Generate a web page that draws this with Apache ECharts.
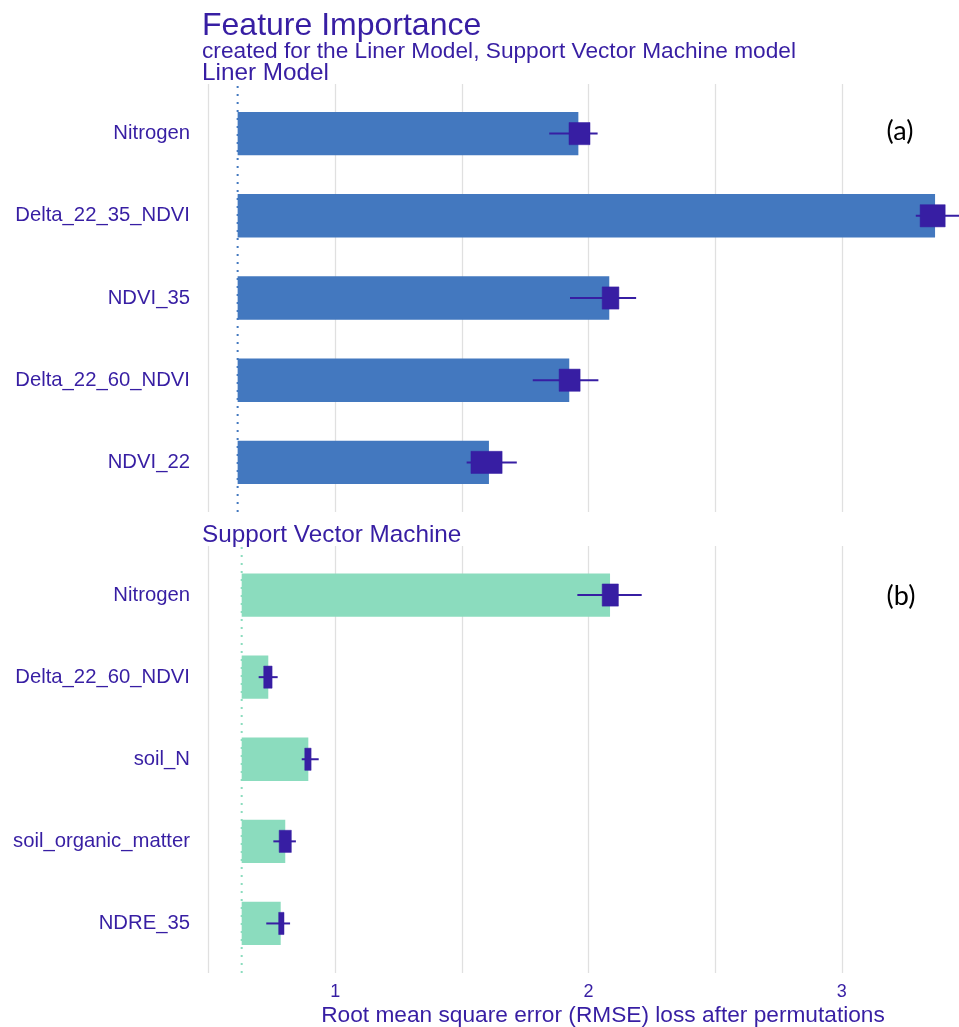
<!DOCTYPE html>
<html>
<head>
<meta charset="utf-8">
<script src="https://cdn.jsdelivr.net/npm/echarts@6/dist/echarts.min.js"></script>
<style>
  html, body { margin: 0; padding: 0; background: #ffffff; }
  #chart { width: 959px; height: 1027px; }
</style>
</head>
<body>
<div id="chart"></div>
<script>
// ---- Liner Model: permutation feature importance ----
const lmFeatures = ['Nitrogen', 'Delta_22_35_NDVI', 'NDVI_35', 'Delta_22_60_NDVI', 'NDVI_22'];
const lmBaseline = 0.615;                          // full-model RMSE
const lmLoss = [1.960, 3.368, 2.082, 1.924, 1.607]; // mean RMSE after permutation
// spread of permutation runs: [min, q1, q3, max]
const lmSpread = [
  [1.845, 1.923, 2.006, 2.036],
  [3.292, 3.309, 3.408, 3.500],
  [1.927, 2.054, 2.120, 2.188],
  [1.780, 1.884, 1.967, 2.039],
  [1.519, 1.536, 1.659, 1.717]
];

// ---- Support Vector Machine ----
const svmFeatures = ['Nitrogen', 'Delta_22_60_NDVI', 'soil_N', 'soil_organic_matter', 'NDRE_35'];
const svmBaseline = 0.631;
const svmLoss = [2.085, 0.736, 0.894, 0.803, 0.785];
const svmSpread = [
  [1.956, 2.054, 2.118, 2.210],
  [0.698, 0.718, 0.751, 0.773],
  [0.868, 0.880, 0.905, 0.935],
  [0.756, 0.779, 0.827, 0.845],
  [0.728, 0.777, 0.798, 0.822]
];

const xMin = 0.5, xMax = 3.5, xStep = 0.5;
const xTickLabels = [1, 2, 3];

const FONT = '"Liberation Sans", Arial, Helvetica, sans-serif';
const INK = '#371ea3';
const LM_COLOR = '#4378bf';
const SVM_COLOR = '#8bdcbe';
const GRID_LINE = '#e0e0e0';

// horizontal layout shared by all panels (plot runs past the right edge)
const LEFT = 208.5, WIDTH = 760;

function barItem(params, api) {
  const cat = api.value(0);
  const p0 = api.coord([api.value(1), cat]);
  const p1 = api.coord([api.value(2), cat]);
  const band = api.size([0, 1])[1];
  const h = band * 0.528;
  return {
    type: 'rect',
    shape: { x: p0[0], y: p0[1] - h / 2, width: p1[0] - p0[0], height: h },
    style: { fill: api.visual('color') }
  };
}

function spreadItem(params, api) {
  const cat = api.value(0);
  const pMin = api.coord([api.value(1), cat]);
  const pQ1 = api.coord([api.value(2), cat]);
  const pQ3 = api.coord([api.value(3), cat]);
  const pMax = api.coord([api.value(4), cat]);
  const band = api.size([0, 1])[1];
  const h = band * 0.27;
  return {
    type: 'group',
    children: [
      { type: 'line', shape: { x1: pMin[0], y1: pMin[1], x2: pMax[0], y2: pMax[1] },
        style: { stroke: INK, lineWidth: 2 } },
      { type: 'rect', shape: { x: pQ1[0], y: pQ1[1] - h / 2, width: pQ3[0] - pQ1[0], height: h },
        style: { fill: INK, stroke: INK, lineWidth: 0.5 } }
    ]
  };
}

function bgXAxis(gridIndex, withLabels) {
  return {
    type: 'value', gridIndex, min: xMin, max: xMax, interval: xStep,
    position: 'bottom',
    axisLine: { show: false }, axisTick: { show: false },
    splitLine: { show: true, lineStyle: { color: GRID_LINE, width: 1.3 } },
    axisLabel: {
      show: withLabels, color: INK, fontFamily: FONT, fontSize: 18, margin: 10,
      formatter: v => (xTickLabels.indexOf(v) >= 0 ? String(v) : '')
    }
  };
}
function dataXAxis(gridIndex) {
  return { type: 'value', gridIndex, min: xMin, max: xMax, show: false, splitLine: { show: false } };
}
function bgYAxis(gridIndex) {
  return { type: 'value', gridIndex, min: 0, max: 1, show: false, splitLine: { show: false } };
}
function catYAxis(gridIndex, cats) {
  return {
    type: 'category', gridIndex, data: cats, inverse: true,
    axisLine: { show: false }, axisTick: { show: false }, splitLine: { show: false },
    axisLabel: { color: INK, fontFamily: FONT, fontSize: 20.3, margin: 18.5 }
  };
}

function panelGrid(top, height) {
  return { left: LEFT, width: WIDTH, top, height, containLabel: false, outerBoundsMode: 'none' };
}

const option = {
  animation: false,
  backgroundColor: '#ffffff',
  grid: [
    panelGrid(84, 428),     // 0: panel a background
    panelGrid(92.5, 411),   // 1: panel a bars
    panelGrid(546, 427),    // 2: panel b background
    panelGrid(554, 410.5)   // 3: panel b bars
  ],
  xAxis: [bgXAxis(0, false), dataXAxis(1), bgXAxis(2, true), dataXAxis(3)],
  yAxis: [bgYAxis(0), catYAxis(1, lmFeatures), bgYAxis(2), catYAxis(3, svmFeatures)],
  series: [
    { type: 'line', xAxisIndex: 0, yAxisIndex: 0, symbol: 'none', silent: true,
      data: [[lmBaseline, 0], [lmBaseline, 1]],
      lineStyle: { color: LM_COLOR, width: 2, type: [2, 6] } },
    { type: 'custom', xAxisIndex: 1, yAxisIndex: 1, renderItem: barItem,
      itemStyle: { color: LM_COLOR }, encode: { y: 0, x: [1, 2] },
      data: lmLoss.map((v, i) => [i, lmBaseline, v]) },
    { type: 'custom', xAxisIndex: 1, yAxisIndex: 1, renderItem: spreadItem,
      encode: { y: 0, x: [1, 2, 3, 4] },
      data: lmSpread.map((s, i) => [i, ...s]) },

    { type: 'line', xAxisIndex: 2, yAxisIndex: 2, symbol: 'none', silent: true,
      data: [[svmBaseline, 0], [svmBaseline, 1]],
      lineStyle: { color: SVM_COLOR, width: 2, type: [2, 6] } },
    { type: 'custom', xAxisIndex: 3, yAxisIndex: 3, renderItem: barItem,
      itemStyle: { color: SVM_COLOR }, encode: { y: 0, x: [1, 2] },
      data: svmLoss.map((v, i) => [i, svmBaseline, v]) },
    { type: 'custom', xAxisIndex: 3, yAxisIndex: 3, renderItem: spreadItem,
      encode: { y: 0, x: [1, 2, 3, 4] },
      data: svmSpread.map((s, i) => [i, ...s]) }
  ],
  graphic: [
    { type: 'text', x: 202, y: 26.6, style: { text: 'Feature Importance', fill: INK, font: '32px ' + FONT, verticalAlign: 'middle' } },
    { type: 'text', x: 202, y: 51.4, style: { text: 'created for the Liner Model, Support Vector Machine model', fill: INK, font: '22.7px ' + FONT, verticalAlign: 'middle' } },
    { type: 'text', x: 202, y: 73.3, style: { text: 'Liner Model', fill: INK, font: '24.3px ' + FONT, verticalAlign: 'middle' } },
    { type: 'text', x: 202, y: 534.9, style: { text: 'Support Vector Machine', fill: INK, font: '24.3px ' + FONT, verticalAlign: 'middle' } },
    { type: 'text', x: 603, y: 1016, style: { text: 'Root mean square error (RMSE) loss after permutations', fill: INK, font: '22.7px ' + FONT, align: 'center', verticalAlign: 'middle' } },
    { type: 'text', x: 900, y: 131, style: { text: '(a)', fill: '#000000', font: '27px Lato, "Open Sans", sans-serif', align: 'center', verticalAlign: 'middle' } },
    { type: 'text', x: 901, y: 596, style: { text: '(b)', fill: '#000000', font: '27px Lato, "Open Sans", sans-serif', align: 'center', verticalAlign: 'middle' } }
  ]
};

const chart = echarts.init(document.getElementById('chart'), null, { renderer: 'canvas' });
chart.setOption(option);
</script>
</body>
</html>
